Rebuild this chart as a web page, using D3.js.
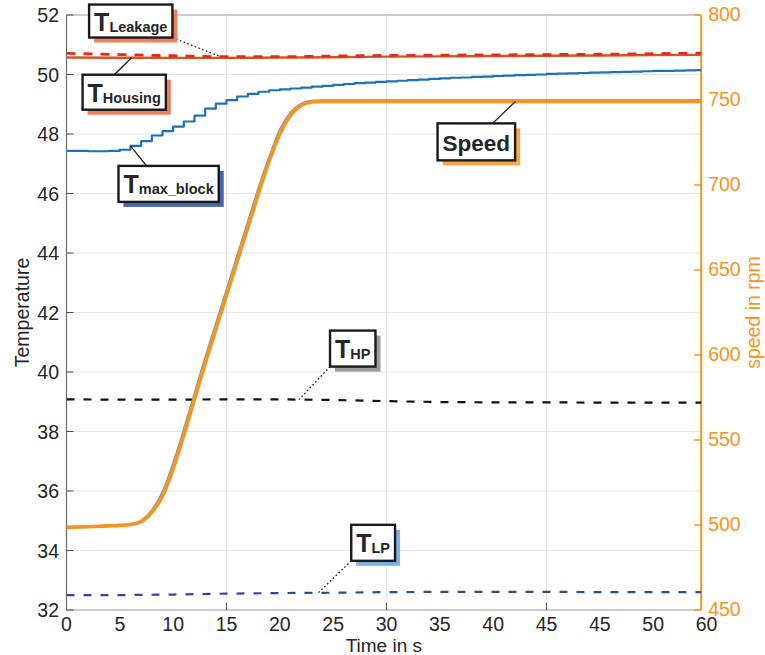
<!DOCTYPE html>
<html>
<head>
<meta charset="utf-8">
<script src="https://cdn.jsdelivr.net/npm/d3@7"></script>
<style>
  body { margin: 0; background: #fff; }
  svg { display: block; }
  text { font-family: "Liberation Sans", Arial, Helvetica, sans-serif; }
</style>
</head>
<body>
<svg id="chart" width="765" height="655"></svg>
<script>
// ---- data ----------------------------------------------------------------
const xTickValues = [0, 5, 10, 15, 20, 25, 30, 35, 40, 45, 50, 55, 60];
const xTickLabels = ["0", "5", "10", "15", "20", "25", "30", "35", "40", "45", "45", "50", "60"];
const xGridValues = [15, 30, 45];
const tempTicks = [32, 34, 36, 38, 40, 42, 44, 46, 48, 50, 52];
const speedTicks = [450, 500, 550, 600, 650, 700, 750, 800];

// temperatures sampled every 5 s
const timeCoarse = [0, 5, 10, 15, 20, 25, 30, 35, 40, 45, 50, 55, 60];
const tLeakage = [50.71, 50.67, 50.63, 50.60, 50.60, 50.62, 50.64, 50.65, 50.66, 50.67, 50.68, 50.70, 50.72];
const tHousing = [50.57, 50.565, 50.56, 50.56, 50.57, 50.58, 50.60, 50.61, 50.62, 50.63, 50.64, 50.65, 50.66];
const tHP = [39.08, 39.07, 39.07, 39.08, 39.08, 39.06, 39.02, 38.99, 38.98, 38.98, 38.97, 38.97, 38.97];
const tLP = [32.50, 32.50, 32.52, 32.55, 32.57, 32.58, 32.60, 32.61, 32.61, 32.61, 32.60, 32.60, 32.60];

// block temperature, sampled every second (quantised sensor)
const timeFine = d3.range(0, 61);
const tMaxBlock = [
  47.43, 47.43, 47.42, 47.42, 47.43, 47.47, 47.60, 47.76, 47.95, 48.10,
  48.25, 48.42, 48.62, 48.85, 49.02, 49.14, 49.26, 49.35, 49.42, 49.47,
  49.50, 49.53, 49.56, 49.59, 49.62, 49.65, 49.68, 49.71, 49.73, 49.75,
  49.77, 49.79, 49.81, 49.83, 49.85, 49.87, 49.89, 49.90, 49.92, 49.93,
  49.95, 49.96, 49.98, 49.99, 50.00, 50.02, 50.03, 50.04, 50.05, 50.06,
  50.07, 50.08, 50.09, 50.10, 50.11, 50.12, 50.12, 50.13, 50.14, 50.15,
  50.15
];

// rotational speed (rpm) and its set point
const speedTime = [0, 2, 4, 5, 6, 7, 8, 9, 10, 11, 12, 13, 14, 15, 16, 17, 18, 19, 20, 21, 22, 23, 24, 25, 30, 35, 40, 45, 50, 55, 60];
const speed = [498.6, 499.0, 499.5, 499.8, 500.3, 502.0, 507.5, 517.0, 533.0, 553.0, 574.0, 595.0, 615.0, 635.0, 655.0, 675.0, 695.0, 714.0, 730.0, 741.0, 746.8, 748.9, 749.2, 749.2, 749.2, 749.2, 749.2, 749.2, 749.2, 749.2, 749.2];
const speedSet = [499.0, 499.3, 499.8, 500.2, 500.8, 502.8, 509.0, 520.0, 537.0, 557.0, 578.0, 599.0, 619.0, 639.0, 659.0, 679.0, 699.0, 717.0, 733.0, 743.0, 748.0, 749.8, 750.1, 750.1, 750.1, 750.1, 750.1, 750.1, 750.1, 750.1, 750.1];

// ---- layout ---------------------------------------------------------------
const svg = d3.select("#chart");
const tEnd = 59.5;                                   // visible end of the time axis
const x = d3.scaleLinear().domain([0, 60]).range([66.5, 706.5]);
const yT = d3.scaleLinear().domain([32, 52]).range([610, 15]);
const yS = d3.scaleLinear().domain([450, 800]).range([610, 15]);
const plotLeft = x(0), plotRight = x(tEnd), plotTop = yT(52), plotBottom = yT(32);

const ORANGE = "#F7941E";
const AXIS = "#4d4d4d";
const TEXT = "#262626";

svg.append("defs").append("clipPath").attr("id", "plot")
  .append("rect").attr("x", plotLeft).attr("y", plotTop)
  .attr("width", plotRight - plotLeft).attr("height", plotBottom - plotTop);

// grid
const grid = svg.append("g").attr("stroke", "#e6e6e6").attr("stroke-width", 1);
grid.selectAll(".h").data(tempTicks.slice(1, -1)).join("line").attr("class", "h")
  .attr("x1", plotLeft).attr("x2", plotRight).attr("y1", d => yT(d)).attr("y2", d => yT(d));
grid.selectAll(".v").data(xGridValues).join("line").attr("class", "v")
  .attr("x1", d => x(d)).attr("x2", d => x(d)).attr("y1", plotTop).attr("y2", plotBottom);

// frame
svg.append("line").attr("x1", plotLeft).attr("x2", plotRight).attr("y1", plotTop).attr("y2", plotTop)
  .attr("stroke", "#9a9a9a").attr("stroke-width", 1);
svg.append("line").attr("x1", plotLeft).attr("x2", plotRight).attr("y1", plotBottom).attr("y2", plotBottom)
  .attr("stroke", "#9a9a9a").attr("stroke-width", 1.2);
svg.append("line").attr("x1", plotLeft).attr("x2", plotLeft).attr("y1", plotTop).attr("y2", plotBottom)
  .attr("stroke", "#6b6b6b").attr("stroke-width", 1.2);

// left axis ticks + labels
const yAxisG = svg.append("g");
yAxisG.selectAll("line").data(tempTicks).join("line")
  .attr("x1", plotLeft).attr("x2", plotLeft + 7).attr("y1", d => yT(d)).attr("y2", d => yT(d))
  .attr("stroke", AXIS).attr("stroke-width", 1);
yAxisG.selectAll("text").data(tempTicks).join("text")
  .attr("x", 59).attr("y", d => yT(d) + 7)
  .attr("text-anchor", "end").attr("font-size", 19.5).attr("fill", TEXT)
  .text(d => d);

// bottom axis ticks + labels
const xAxisG = svg.append("g");
xAxisG.selectAll("line").data(xGridValues).join("line")
  .attr("x1", d => x(d)).attr("x2", d => x(d)).attr("y1", plotBottom).attr("y2", plotBottom - 7)
  .attr("stroke", AXIS).attr("stroke-width", 1);
xAxisG.selectAll("text").data(xTickValues).join("text")
  .attr("x", d => x(d)).attr("y", 631)
  .attr("text-anchor", "middle").attr("font-size", 19.5).attr("fill", TEXT)
  .text((d, i) => xTickLabels[i]);

// right (speed) axis
svg.append("line").attr("x1", plotRight).attr("x2", plotRight).attr("y1", plotTop).attr("y2", plotBottom)
  .attr("stroke", ORANGE).attr("stroke-width", 2);
const rAxisG = svg.append("g");
rAxisG.selectAll("line").data(speedTicks).join("line")
  .attr("x1", plotRight - 7).attr("x2", plotRight).attr("y1", d => yS(d)).attr("y2", d => yS(d))
  .attr("stroke", ORANGE).attr("stroke-width", 1.5);
rAxisG.selectAll("text").data(speedTicks).join("text")
  .attr("x", plotRight + 7).attr("y", d => yS(d) + 6)
  .attr("font-size", 19.5).attr("fill", ORANGE)
  .text(d => d);

// axis titles
svg.append("text").attr("transform", `translate(29,${(plotTop + plotBottom) / 2}) rotate(-90)`)
  .attr("text-anchor", "middle").attr("font-size", 19.5).attr("fill", TEXT).text("Temperature");
svg.append("text").attr("transform", `translate(760,${(plotTop + plotBottom) / 2}) rotate(-90)`)
  .attr("text-anchor", "middle").attr("font-size", 19.5).attr("fill", ORANGE).text("speed in rpm");
svg.append("text").attr("x", (plotLeft + plotRight) / 2).attr("y", 652)
  .attr("text-anchor", "middle").attr("font-size", 19).attr("fill", TEXT).text("Time in s");

// ---- series -----------------------------------------------------------------
const plot = svg.append("g").attr("clip-path", "url(#plot)");
function drawLine(times, values, yScale, style, curve) {
  const gen = d3.line().x((d, i) => x(times[i])).y(d => yScale(d)).curve(curve || d3.curveLinear);
  const p = plot.append("path").datum(values).attr("d", gen).attr("fill", "none")
    .attr("stroke", style.color).attr("stroke-width", style.width)
    .attr("stroke-linejoin", "round");
  if (style.dash) p.attr("stroke-dasharray", style.dash);
  return p;
}

drawLine(timeCoarse, tHP, yT, { color: "#111", width: 2.2, dash: "8,9" });
drawLine(timeCoarse, tLP, yT, { color: "#2B4BA3", width: 2.2, dash: "8,9" });
drawLine(timeFine, tMaxBlock, yT, { color: "#1F72B8", width: 2.2 }, d3.curveStepAfter);
drawLine(timeCoarse, tHousing, yT, { color: "#D9541A", width: 2.4 }, d3.curveMonotoneX);
drawLine(timeCoarse, tLeakage, yT, { color: "#E52A21", width: 2.8, dash: "9,8" }, d3.curveMonotoneX);
drawLine(speedTime, speedSet, yS, { color: "#8895a3", width: 1.4 }, d3.curveMonotoneX);
drawLine(speedTime, speed, yS, { color: ORANGE, width: 3.6 }, d3.curveMonotoneX);

// ---- callouts -------------------------------------------------------------
const interp = (times, values) => d3.scaleLinear().domain(times).range(values);
const stepAt = (times, values) => t => values[Math.max(0, d3.bisectRight(times, t) - 1)];

const callouts = [
  { main: "T", sub: "Leakage", f: interp(timeCoarse, tLeakage), y: yT, at: 14.4, dx: -131, dy: -52, h: 33, base: 26.5, lx: 1, ly: 1, dotted: true, shadow: "#EF7E5E" },
  { main: "T", sub: "Housing", f: interp(timeCoarse, tHousing), y: yT, at: 6.1, dx: -49, dy: 17, h: 35, base: 27, lx: 0.38, ly: 0, dotted: false, shadow: "#EF7E5E" },
  { main: "T", sub: "max_block", f: stepAt(timeFine, tMaxBlock), y: yT, at: 6.0, dx: -12, dy: 20, h: 36, base: 27.5, lx: 0.28, ly: 0, dotted: false, shadow: "#4468AE" },
  { main: "Speed", sub: "", f: interp(speedTime, speed), y: yS, at: 42.1, dx: -78, dy: 22, h: 37, base: 27.5, lx: 0.71, ly: 0, dotted: false, shadow: "#F9A64A" },
  { main: "T", sub: "HP", f: interp(timeCoarse, tHP), y: yT, at: 21.8, dx: 31, dy: -69, h: 36, base: 27.5, lx: 0, ly: 1, dotted: true, shadow: "#9c9c9c" },
  { main: "T", sub: "LP", f: interp(timeCoarse, tLP), y: yT, at: 23.6, dx: 33, dy: -68, h: 36, base: 27.5, lx: 0, ly: 1, dotted: true, shadow: "#7DB0E6" }
];

const callG = svg.append("g");
callouts.forEach(c => {
  const ax = x(c.at), ay = c.y(c.f(c.at));
  const bx = ax + c.dx, by = ay + c.dy;
  const g = callG.append("g");
  const shadowR = g.append("rect");
  const boxR = g.append("rect");
  const t = g.append("text").attr("x", bx + 5).attr("y", by + c.base)
    .attr("fill", TEXT).attr("font-weight", "bold");
  t.append("tspan").attr("font-size", c.sub ? 25 : 22.5).text(c.main);
  if (c.sub) t.append("tspan").attr("font-size", 14.5).attr("dy", 1).text(c.sub);
  const w = t.node().getComputedTextLength() + 10;
  shadowR.attr("x", bx + 5).attr("y", by + 5).attr("width", w).attr("height", c.h).attr("fill", c.shadow);
  boxR.attr("x", bx).attr("y", by).attr("width", w).attr("height", c.h)
    .attr("fill", "#fff").attr("stroke", "#1a1a1a").attr("stroke-width", 2.4);
  const sx = bx + c.lx * w, sy = by + c.ly * c.h;
  const leader = callG.insert("line", ":first-child")
    .attr("x1", sx).attr("y1", sy).attr("x2", ax).attr("y2", ay)
    .attr("stroke", "#1a1a1a").attr("stroke-width", 1.3);
  if (c.dotted) leader.attr("stroke-dasharray", "1.6,2.4");
});
</script>
</body>
</html>
